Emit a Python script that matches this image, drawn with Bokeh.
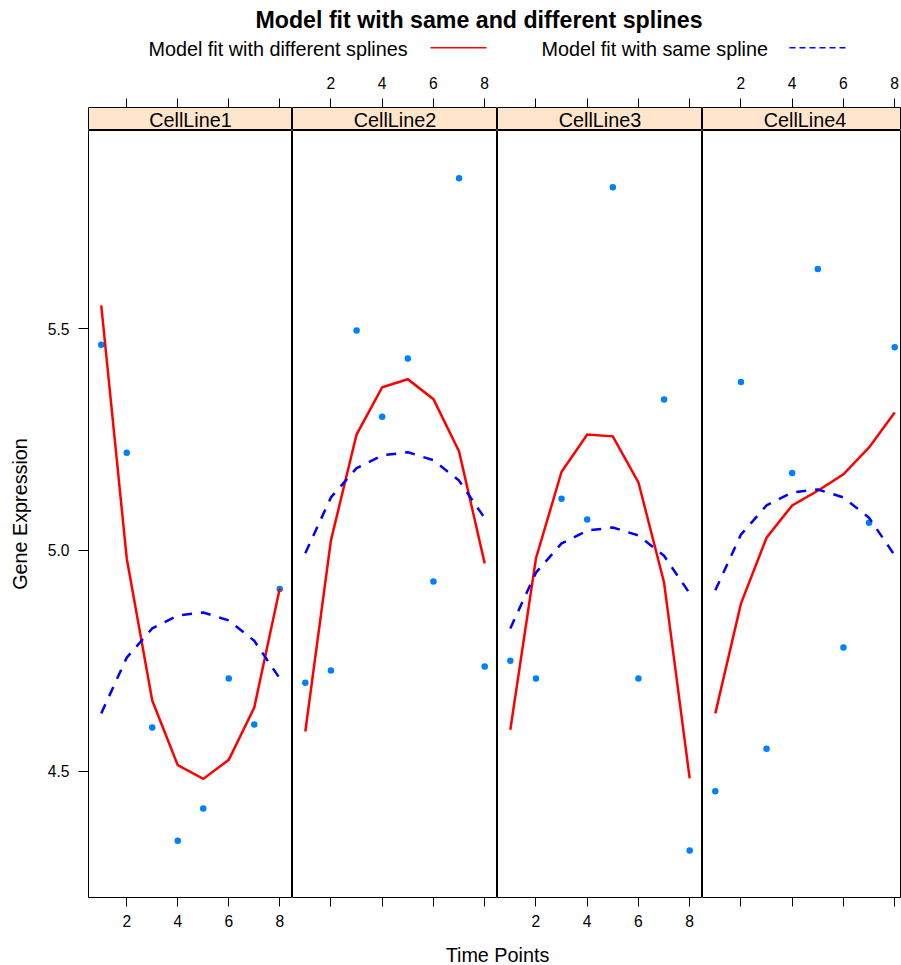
from bokeh.plotting import figure
from bokeh.layouts import column, row
from bokeh.models import Range1d, LinearAxis, FixedTicker, ColumnDataSource
from bokeh.core.properties import value
from bokeh.embed import file_html
from bokeh.resources import INLINE

# ---------------- data ----------------
cell_lines = ["CellLine1", "CellLine2", "CellLine3", "CellLine4"]
time_points = [1, 2, 3, 4, 5, 6, 7, 8]

obs_cl1 = [5.464, 5.220, 4.599, 4.343, 4.416, 4.710, 4.606, 4.912]
obs_cl2 = [4.700, 4.728, 5.496, 5.301, 5.433, 4.929, 5.840, 4.737]
obs_cl3 = [4.750, 4.710, 5.116, 5.069, 5.820, 4.710, 5.340, 4.321]
obs_cl4 = [4.455, 5.380, 4.551, 5.174, 5.635, 4.780, 5.062, 5.458]

diff_cl1 = [5.553, 4.981, 4.660, 4.514, 4.483, 4.526, 4.644, 4.913]
diff_cl2 = [4.590, 5.022, 5.261, 5.368, 5.386, 5.341, 5.223, 4.970]
diff_cl3 = [4.594, 4.981, 5.177, 5.261, 5.257, 5.153, 4.927, 4.484]
diff_cl4 = [4.631, 4.879, 5.028, 5.101, 5.134, 5.171, 5.232, 5.311]

same_cl1 = [4.631, 4.757, 4.823, 4.852, 4.859, 4.841, 4.795, 4.710]
same_cl2 = [4.993, 5.119, 5.185, 5.214, 5.221, 5.203, 5.157, 5.072]
same_cl3 = [4.823, 4.949, 5.015, 5.044, 5.051, 5.033, 4.987, 4.902]
same_cl4 = [4.909, 5.035, 5.101, 5.130, 5.137, 5.119, 5.073, 4.988]

x_ticks = [2, 4, 6, 8]
y_ticks = [4.5, 5.0, 5.5]
y_tick_labels = ["4.5", "5.0", "5.5"]

title_text = "Model fit with same and different splines"
legend_labels = ["Model fit with different splines", "Model fit with same spline"]
x_label = "Time Points"
y_label = "Gene Expression"

obs_all = [obs_cl1, obs_cl2, obs_cl3, obs_cl4]
diff_all = [diff_cl1, diff_cl2, diff_cl3, diff_cl4]
same_all = [same_cl1, same_cl2, same_cl3, same_cl4]

# ---------------- style ----------------
FONT = "Liberation Sans"
BASE = 19.8
POINT_COL = "#0080ff"
RED = "#ff0000"
BLUE = "#0000ff"
STRIP_COL = "#ffe5cc"

XLIM = (0.5, 8.5)
YLIM = (4.215, 5.948)

TOTAL_W = 901
LEFT = 88
frame_w = [204, 205, 205, 199]
col_w = [LEFT + frame_w[0], frame_w[1], frame_w[2], frame_w[3]]

HEADER_H = 67
STRIP_TOP = 40
STRIP_H = 23
PANEL_H = 767
PANEL_BOTTOM = 36
FOOTER_H = 965 - HEADER_H - STRIP_TOP - STRIP_H - PANEL_H - PANEL_BOTTOM


def base_fig(w, h, xr, yr):
    f = figure(width=w, height=h, x_range=xr, y_range=yr,
               output_backend="svg", toolbar_location=None,
               x_axis_location=None, y_axis_location=None,
               min_border_left=0, min_border_right=0,
               min_border_top=0, min_border_bottom=0)
    f.grid.visible = False
    f.outline_line_color = None
    f.border_fill_color = "white"
    f.background_fill_color = "white"
    return f


def style_axis(ax, labelled, tick_len, standoff):
    ax.axis_line_color = None
    ax.major_tick_line_color = "black"
    ax.major_tick_line_width = 1
    ax.major_tick_out = tick_len
    ax.major_tick_in = 0
    ax.minor_tick_line_color = None
    ax.major_label_text_font = FONT
    ax.major_label_text_font_size = "15.6px"
    ax.major_label_text_color = "black" if labelled else None
    ax.major_label_standoff = standoff


# ---------------- header (title + key) ----------------
header = base_fig(TOTAL_W, HEADER_H, Range1d(0, TOTAL_W), Range1d(HEADER_H, 0))
header.text(x=[478.5], y=[19.5], text=[title_text], text_font=value(FONT),
            text_font_size="23.2px", text_font_style="bold",
            text_align="center", text_baseline="middle", text_color="black")
header.text(x=[148], y=[48.5], text=[legend_labels[0]], text_font=value(FONT),
            text_font_size=f"{BASE}px", text_align="left",
            text_baseline="middle", text_color="black")
header.line(x=[430, 486], y=[47.3, 47.3], line_color=RED, line_width=1.4)
header.text(x=[541], y=[48.5], text=[legend_labels[1]], text_font=value(FONT),
            text_font_size=f"{BASE}px", text_align="left",
            text_baseline="middle", text_color="black")
header.line(x=[789, 845], y=[47.3, 47.3], line_color=BLUE, line_width=1.4,
            line_dash="6 4")

# ---------------- panels ----------------
strips = []
panels = []
for i, name in enumerate(cell_lines):
    end = XLIM[1]
    if i == 3:
        end = XLIM[0] + (XLIM[1] - XLIM[0]) * frame_w[i] / 205.0
    xr = Range1d(XLIM[0], end)

    # strip
    s = base_fig(col_w[i], STRIP_TOP + STRIP_H, xr, Range1d(0, 1))
    s.min_border_top = STRIP_TOP
    if i == 0:
        s.min_border_left = LEFT
    s.background_fill_color = STRIP_COL
    s.outline_line_color = "black"
    s.outline_line_width = 1
    top_ax = LinearAxis(ticker=FixedTicker(ticks=x_ticks))
    style_axis(top_ax, labelled=(i % 2 == 1), tick_len=9, standoff=10)
    s.add_layout(top_ax, "above")
    s.text(x=[(XLIM[0] + XLIM[1]) / 2], y=[0.44], text=[name],
           text_font=value(FONT), text_font_size=f"{BASE}px",
           text_align="center", text_baseline="middle", text_color="black")
    strips.append(s)

    # panel
    p = base_fig(col_w[i], PANEL_H + PANEL_BOTTOM, xr, Range1d(*YLIM))
    p.min_border_bottom = PANEL_BOTTOM
    if i == 0:
        p.min_border_left = LEFT
    p.outline_line_color = "black"
    p.outline_line_width = 1
    bot_ax = LinearAxis(ticker=FixedTicker(ticks=x_ticks))
    style_axis(bot_ax, labelled=(i % 2 == 0), tick_len=9, standoff=8)
    p.add_layout(bot_ax, "below")
    if i == 0:
        left_ax = LinearAxis(ticker=FixedTicker(ticks=y_ticks),
                             major_label_overrides={t: l for t, l in zip(y_ticks, y_tick_labels)})
        style_axis(left_ax, labelled=True, tick_len=10, standoff=9)
        left_ax.axis_label = y_label
        left_ax.axis_label_text_font = FONT
        left_ax.axis_label_text_font_size = f"{BASE}px"
        left_ax.axis_label_text_font_style = "normal"
        left_ax.axis_label_text_color = "black"
        left_ax.axis_label_standoff = 14
        p.add_layout(left_ax, "left")

    src = ColumnDataSource(dict(t=time_points, obs=obs_all[i],
                                diff=diff_all[i], same=same_all[i]))
    p.scatter("t", "obs", source=src, size=6.5, marker="circle",
              fill_color=POINT_COL, line_color=None)
    p.line("t", "diff", source=src, line_color=RED, line_width=2.5,
           line_join="miter")
    p.line("t", "same", source=src, line_color=BLUE, line_width=2.5,
           line_dash="10 9")
    panels.append(p)

# ---------------- footer (x label) ----------------
footer = base_fig(TOTAL_W, FOOTER_H, Range1d(0, TOTAL_W), Range1d(FOOTER_H, 0))
footer.text(x=[497], y=[954 - (965 - FOOTER_H)], text=[x_label], text_font=value(FONT),
            text_font_size=f"{BASE}px", text_align="center",
            text_baseline="middle", text_color="black")

layout = column(header, row(*strips, spacing=0), row(*panels, spacing=0), footer,
                spacing=0)

open("out.html", "w").write(file_html(layout, INLINE))
